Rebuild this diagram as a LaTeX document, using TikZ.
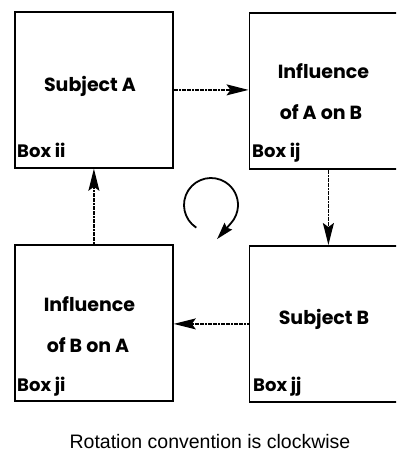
\documentclass[tikz,border=0pt]{standalone}
\usepackage{fontspec}
\newfontfamily\boxfont{Poppins}
\setmainfont{Liberation Sans}
\usetikzlibrary{arrows.meta}
\tikzset{
  bigbox/.style={draw=black, line width=1.8pt, minimum width=158pt, minimum height=156pt, anchor=north west, inner sep=0pt},
  lbl/.style={font=\boxfont\bfseries\fontsize{19}{22}\selectfont, inner sep=0pt},
  boxlbl/.style={font=\boxfont\bfseries\fontsize{18}{22}\selectfont, inner sep=0pt, anchor=base west},
  conn/.style={line width=1.3pt, dash pattern=on 2pt off 0.6pt, -{Stealth[length=22pt,width=11pt,inset=4pt]}},
  rot/.style={line width=1.8pt, -{Stealth[length=17pt,width=10pt,inset=2pt]}}
}
\begin{document}
\begin{tikzpicture}[x=1pt,y=1pt]
\useasboundingbox (0,0) rectangle (396,-454);
\clip (0,0) rectangle (396,-454);
\node[bigbox] (ii) at (14,-11) {};
\node[bigbox] (ij) at (248.5,-12) {};
\node[bigbox] (ji) at (14,-244) {};
\node[bigbox] (jj) at (248.5,-245) {};
\node[lbl] (tA) at (90,-86) {Subject A};
\node[lbl] (tI1) at (323.5,-71) {Influence};
\node[lbl] (tI2) at (321,-112) {of A on B};
\node[lbl] (tI3) at (89.5,-304) {Influence};
\node[lbl] (tI4) at (88,-345) {of B on A};
\node[lbl] (tB) at (324,-319) {Subject B};
\node[boxlbl] (bii) at (17,-158) {Box ii};
\node[boxlbl] (bij) at (252,-158) {Box ij};
\node[boxlbl] (bji) at (17,-391) {Box ji};
\node[boxlbl] (bjj) at (253,-391) {Box jj};
\draw[conn] (ii.east) -- (ii.east -| ij.west);
\draw[conn] (ij.south) -- (ij.south |- jj.north);
\draw[conn] (jj.west) -- (jj.west -| ji.east);
\draw[conn] (ji.north) -- (ji.north |- ii.south);
\coordinate (rc) at (211,-205);
\draw[rot] (rc) ++(237:27) arc[start angle=237, end angle=-42, radius=27] -- ++(-14,-16);
\node[font=\fontsize{19.5}{22}\selectfont, anchor=base, inner sep=0pt] (cap) at (210,-448) {Rotation convention is clockwise};
\end{tikzpicture}
\end{document}
